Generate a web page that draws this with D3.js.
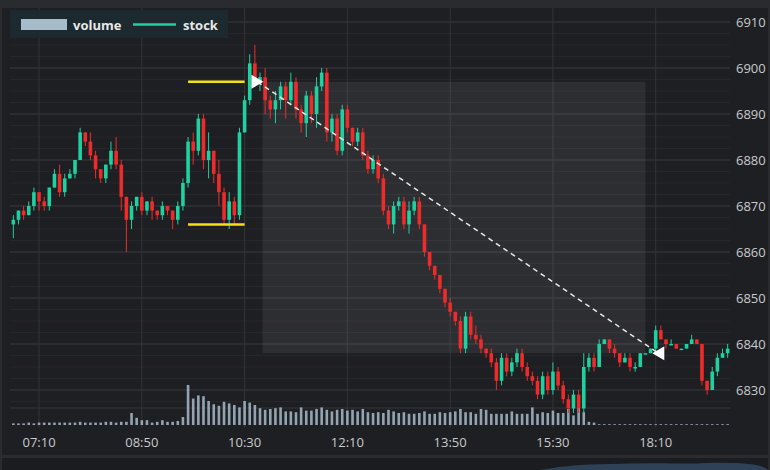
<!DOCTYPE html>
<html>
<head>
<meta charset="utf-8">
<script src="https://cdn.jsdelivr.net/npm/d3@7"></script>
<style>
  body { margin: 0; background: #2a2b2e; }
  text { font-family: "Open Sans", "Noto Sans", sans-serif; }
</style>
</head>
<body>
<svg id="chart" width="770" height="470"></svg>
<script>
// close prices, one candle per slot
const closes = [
  6867, 6869, 6868, 6870, 6873, 6871, 6870, 6874, 6877, 6873,
  6876, 6877, 6880, 6886, 6884, 6881, 6878, 6876, 6879, 6882,
  6879, 6872, 6867, 6870, 6872, 6869, 6871, 6869, 6868, 6870,
  6869, 6867, 6870, 6875, 6884, 6882, 6889, 6880, 6882, 6877,
  6873, 6867, 6871, 6868, 6886, 6893, 6901, 6897, 6898, 6893,
  6891, 6893, 6896, 6893, 6897, 6891, 6888, 6894, 6890, 6896,
  6899, 6886, 6889, 6882, 6891, 6887, 6884, 6886, 6881, 6878,
  6880, 6876, 6869, 6866, 6870, 6871, 6866, 6869, 6871, 6866,
  6860, 6857, 6855, 6852, 6849, 6847, 6845, 6839, 6846, 6842,
  6841, 6839, 6838, 6836, 6832, 6837, 6834, 6836, 6838, 6835,
  6833, 6832, 6829, 6833, 6830, 6834, 6831, 6828, 6826, 6829,
  6826, 6835, 6837, 6835, 6840, 6841, 6839, 6838, 6836, 6837,
  6835, 6835, 6838, 6838, 6839, 6843, 6841, 6840, 6840, 6839,
  6839, 6840, 6841, 6840, 6832, 6830, 6834, 6837, 6838, 6839
]
const firstOpen = 6866
// wick lengths above / below the body
const upperWicks = [
  1, 0, 1, 1, 1, 0, 1, 0, 1, 2, 1, 1, 0, 1, 0, 2, 1, 0, 0, 2,
  3, 1, 0, 1, 0, 1, 0, 1, 0, 1, 0, 0, 1, 1, 1, 2, 1, 1, 4, 0,
  3, 1, 2, 1, 1, 1, 2, 4, 1, 2, 1, 2, 1, 1, 2, 1, 1, 1, 1, 2,
  1, 1, 1, 1, 1, 1, 0, 1, 1, 1, 1, 1, 1, 1, 1, 1, 1, 2, 1, 1,
  0, 0, 0, 0, 0, 1, 0, 1, 1, 1, 2, 1, 0, 1, 1, 1, 1, 1, 1, 1,
  1, 1, 1, 1, 1, 2, 1, 1, 1, 1, 1, 3, 1, 1, 1, 0, 0, 1, 0, 1,
  1, 1, 0, 0, 0, 1, 1, 0, 1, 0, 0, 0, 1, 0, 0, 0, 1, 1, 1, 1
]
const lowerWicks = [
  3, 1, 1, 0, 1, 2, 1, 1, 0, 1, 1, 0, 1, 0, 1, 1, 2, 1, 1, 1,
  1, 3, 7, 2, 1, 1, 1, 2, 1, 1, 1, 2, 1, 1, 1, 3, 1, 2, 4, 2,
  3, 1, 2, 2, 1, 0, 1, 1, 2, 3, 2, 3, 2, 4, 1, 2, 2, 3, 2, 3,
  1, 2, 2, 1, 1, 1, 1, 1, 1, 1, 1, 1, 1, 1, 2, 1, 1, 2, 1, 1,
  1, 1, 1, 1, 1, 1, 1, 1, 1, 1, 1, 1, 1, 1, 2, 1, 1, 1, 1, 1,
  1, 1, 1, 1, 1, 1, 1, 1, 1, 1, 1, 1, 1, 1, 0, 0, 1, 1, 1, 0,
  1, 1, 0, 0, 0, 1, 0, 1, 0, 0, 0, 0, 0, 0, 1, 1, 0, 1, 0, 1
]
const volumes = [
  2, 2, 2, 3, 2, 3, 3, 3, 3, 3, 3, 3, 3, 4, 3, 3, 3, 3, 4, 4,
  3, 4, 4, 15, 9, 6, 6, 3, 4, 6, 4, 4, 5, 10, 50, 33, 37, 36, 30, 26,
  24, 29, 27, 25, 22, 30, 28, 25, 21, 19, 20, 21, 22, 17, 17, 16, 22, 18, 18, 20,
  22, 19, 17, 19, 20, 18, 19, 17, 20, 16, 15, 16, 15, 19, 17, 15, 16, 14, 14, 15,
  17, 14, 14, 16, 15, 16, 17, 20, 16, 16, 14, 20, 19, 14, 14, 14, 14, 17, 14, 14,
  14, 22, 14, 16, 15, 18, 15, 15, 20, 12, 24, 16, 4, 3, 1, 1, 1, 1, 1, 1,
  1, 1, 1, 1, 1, 1, 1, 1, 1, 1, 1, 1, 1, 1, 1, 1, 1, 1, 1, 1
]
const tickLabels = ['07:10', '08:50', '10:30', '12:10', '13:50', '15:30', '18:10']
const tickSlots = [5, 25, 45, 65, 85, 105, 125]
const priceTicks = [6830, 6840, 6850, 6860, 6870, 6880, 6890, 6900, 6910]
// annotations: range lines and trend arrow (slot, price)
const rangeHigh = { from: 34, to: 45, price: 6897 }
const rangeLow = { from: 34, to: 45, price: 6866 }
const trendLine = [[47.5, 6897], [125.5, 6838]]
const shadeBox = { from: 48.5, to: 123, top: 6897, bottom: 6838 }

const W = 770, H = 470
const plot = { left: 10, right: 730, top: 8, bottom: 428 }
const svg = d3.select('#chart')

svg.append('rect').attr('width', W).attr('height', H).attr('fill', '#2a2b2e')
svg.append('rect').attr('x', 2).attr('y', 8).attr('width', 766).attr('height', 447).attr('fill', '#1e1f22')
svg.append('rect').attr('x', 2).attr('y', 458).attr('width', 766).attr('height', 12).attr('fill', '#1b1c1f')

const x = d3.scaleBand().domain(d3.range(closes.length)).range([10, 731]).padding(0.3)
const xc = i => x(Math.round(i)) + x.bandwidth() / 2 + (i - Math.round(i)) * x.step()
const y = d3.scaleLinear().domain([6830, 6910]).range([390, 22])
const yv = d3.scaleLinear().domain([0, 100]).range([425, 345])

// grid
const grid = svg.append('g')
grid.selectAll('.mh').data(d3.range(6827.5, 6912, 2.5)).join('line')
  .attr('x1', plot.left).attr('x2', plot.right).attr('y1', d => y(d)).attr('y2', d => y(d))
  .attr('stroke', '#26272a').attr('stroke-width', 1)
grid.selectAll('.h').data(priceTicks).join('line')
  .attr('x1', plot.left).attr('x2', plot.right).attr('y1', d => y(d)).attr('y2', d => y(d))
  .attr('stroke', '#36373b')
grid.append('line').attr('x1', plot.left).attr('x2', plot.right).attr('y1', 408).attr('y2', 408).attr('stroke', '#36373b')
grid.selectAll('.v').data(tickSlots).join('line')
  .attr('x1', d => xc(d)).attr('x2', d => xc(d)).attr('y1', plot.top).attr('y2', plot.bottom)
  .attr('stroke', '#333438')

// shaded selection box
svg.append('rect')
  .attr('x', xc(shadeBox.from)).attr('y', y(shadeBox.top))
  .attr('width', xc(shadeBox.to) - xc(shadeBox.from))
  .attr('height', y(shadeBox.bottom) - y(shadeBox.top))
  .attr('fill', '#ffffff').attr('opacity', 0.07)

// volume
svg.append('g').selectAll('rect').data(volumes).join('rect')
  .attr('x', (d, i) => x(i) + 0.5).attr('width', Math.max(1.5, x.bandwidth() - 1))
  .attr('y', d => yv(d)).attr('height', d => yv(0) - yv(d))
  .attr('fill', '#a7bccb').attr('opacity', 0.85)

// candles
const candles = closes.map((c, i) => {
  const o = i === 0 ? firstOpen : closes[i - 1]
  return { i, o, c, h: Math.max(o, c) + upperWicks[i], l: Math.min(o, c) - lowerWicks[i] }
})
const cg = svg.append('g').selectAll('g').data(candles).join('g')
const col = d => d.c >= d.o ? '#1fd1a0' : '#ee2b2b'
cg.append('line')
  .attr('x1', d => xc(d.i)).attr('x2', d => xc(d.i))
  .attr('y1', d => y(d.h)).attr('y2', d => y(d.l))
  .attr('stroke', col).attr('stroke-width', 1)
cg.append('rect')
  .attr('x', d => x(d.i)).attr('width', x.bandwidth())
  .attr('y', d => y(Math.max(d.o, d.c)))
  .attr('height', d => Math.max(1.5, Math.abs(y(d.o) - y(d.c))))
  .attr('fill', col)

// range lines
;[rangeHigh, rangeLow].forEach(r => {
  svg.append('line')
    .attr('x1', xc(r.from)).attr('x2', xc(r.to)).attr('y1', y(r.price)).attr('y2', y(r.price))
    .attr('stroke', '#f5e11a').attr('stroke-width', 2.5)
})

// trend arrow
const [p0, p1] = trendLine.map(([s, p]) => [xc(s), y(p)])
svg.append('line').attr('x1', p0[0]).attr('y1', p0[1]).attr('x2', p1[0]).attr('y2', p1[1])
  .attr('stroke', '#e8e8e8').attr('stroke-width', 1.5).attr('stroke-dasharray', '5,4')
svg.append('path').attr('d', `M${p0[0] - 6},${p0[1] - 7}L${p0[0] + 6},${p0[1]}L${p0[0] - 6},${p0[1] + 7}Z`).attr('fill', '#fff')
svg.append('path').attr('d', `M${p1[0] + 6},${p1[1] - 7}L${p1[0] - 6},${p1[1]}L${p1[0] + 6},${p1[1] + 7}Z`).attr('fill', '#fff')

// axes
const yAxis = svg.append('g').attr('transform', `translate(${plot.right + 3},0)`)
  .call(d3.axisRight(y).tickValues(priceTicks).tickSize(0).tickPadding(3).tickFormat(d3.format('d')))
yAxis.select('.domain').remove()
yAxis.selectAll('text').attr('fill', '#c9cacc').attr('font-size', 13)

const xAxis = svg.append('g').attr('transform', `translate(0,${plot.bottom + 4})`)
  .call(d3.axisBottom(d3.scaleLinear().domain([0, 1]).range([0, 1]))
    .tickValues(tickSlots).tickSize(0).tickPadding(6).tickFormat((d, i) => tickLabels[i]))
xAxis.select('.domain').remove()
xAxis.selectAll('.tick').attr('transform', d => `translate(${xc(d)},0)`)
xAxis.selectAll('text').attr('fill', '#c9cacc').attr('font-size', 13)

// navigator strip hint
const nav = d3.area().x(d => d[0]).y0(470).y1(d => d[1]).curve(d3.curveBasis)
svg.append('path')
  .attr('d', nav([[540, 470], [570, 465], [610, 464], [650, 463], [690, 464], [720, 462], [760, 464], [768, 470]]))
  .attr('fill', '#34526e').attr('opacity', 0.7)

// legend
const lg = svg.append('g').attr('transform', 'translate(10,10)')
lg.append('rect').attr('width', 218).attr('height', 28).attr('fill', '#1c2a30').attr('opacity', 0.9)
lg.append('rect').attr('x', 11).attr('y', 9).attr('width', 46).attr('height', 11).attr('fill', '#a7bccb')
lg.append('text').attr('x', 63).attr('y', 19.5).text('volume').attr('fill', '#e8e8e8').attr('font-size', 13).attr('font-weight', 'bold')
lg.append('line').attr('x1', 123).attr('x2', 166).attr('y1', 14.5).attr('y2', 14.5).attr('stroke', '#1fd1a0').attr('stroke-width', 2.5)
lg.append('text').attr('x', 173).attr('y', 19.5).text('stock').attr('fill', '#e8e8e8').attr('font-size', 13).attr('font-weight', 'bold')
</script>
</body>
</html>
